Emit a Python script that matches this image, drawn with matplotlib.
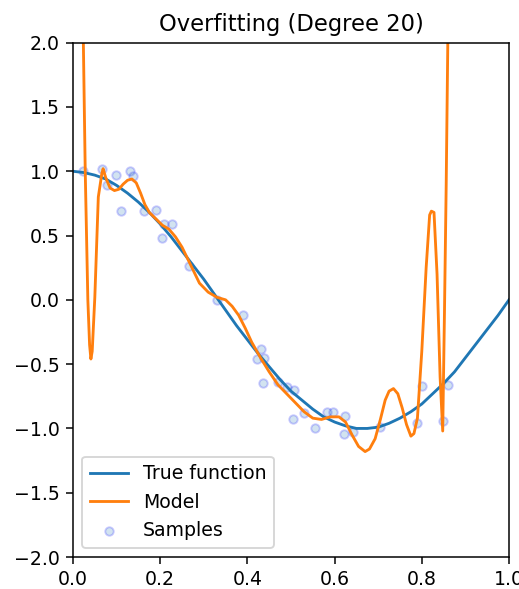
import matplotlib
matplotlib.use("Agg")
import matplotlib.pyplot as plt

# true function
true_x = [0.0, 0.025, 0.05, 0.075, 0.1, 0.125, 0.15, 0.175, 0.2, 0.225, 0.25,
          0.275, 0.3, 0.325, 0.35, 0.375, 0.4, 0.425, 0.45, 0.475, 0.5,
          0.525, 0.55, 0.575, 0.6, 0.625, 0.65, 0.675, 0.7, 0.725, 0.75,
          0.775, 0.8, 0.825, 0.85, 0.875, 0.9, 0.925, 0.95, 0.975, 1.0]
true_y = [1.0, 0.99, 0.97, 0.94, 0.89, 0.83, 0.76, 0.68, 0.59, 0.49, 0.38,
          0.27, 0.16, 0.04, -0.08, -0.20, -0.31, -0.42, -0.52, -0.62, -0.71,
          -0.78, -0.85, -0.91, -0.95, -0.98, -1.0, -1.0, -0.99, -0.96, -0.92,
          -0.87, -0.81, -0.73, -0.65, -0.56, -0.45, -0.34, -0.23, -0.12, 0.0]

# degree-20 model
model_x = [0.018, 0.022, 0.028, 0.034, 0.038, 0.041, 0.044, 0.050, 0.058, 0.066,
           0.069, 0.075, 0.085, 0.095, 0.105, 0.115, 0.125, 0.135, 0.145, 0.155,
           0.165, 0.175, 0.19, 0.205, 0.22, 0.235, 0.25, 0.27, 0.29, 0.31,
           0.33, 0.35, 0.365, 0.38, 0.395, 0.41, 0.43, 0.45, 0.47, 0.49,
           0.51, 0.53, 0.55, 0.57, 0.59, 0.61, 0.625, 0.64, 0.655, 0.67,
           0.68, 0.693, 0.705, 0.716, 0.725, 0.735, 0.745, 0.755, 0.765, 0.775,
           0.782, 0.79, 0.80, 0.81, 0.818, 0.822, 0.828, 0.835, 0.842, 0.848,
           0.852, 0.856, 0.861]
model_y = [3.5, 2.4, 1.0, 0.0, -0.35, -0.46, -0.40, 0.02, 0.80, 0.98,
           1.02, 0.95, 0.87, 0.85, 0.86, 0.90, 0.93, 0.94, 0.91, 0.83,
           0.74, 0.68, 0.63, 0.58, 0.55, 0.49, 0.41, 0.27, 0.13, 0.06,
           0.02, 0.0, -0.05, -0.12, -0.22, -0.33, -0.45, -0.56, -0.66, -0.73,
           -0.80, -0.87, -0.92, -0.93, -0.91, -0.91, -0.95, -1.05, -1.14, -1.18,
           -1.16, -1.08, -0.93, -0.78, -0.71, -0.69, -0.73, -0.84, -0.97, -1.06,
           -1.04, -0.92, -0.40, 0.25, 0.66, 0.69, 0.68, 0.20, -0.60, -1.02,
           -0.10, 0.90, 2.4]

# noisy samples
sample_x = [0.023, 0.066, 0.078, 0.098, 0.110, 0.131, 0.138, 0.163, 0.190, 0.204,
            0.209, 0.227, 0.266, 0.330, 0.390, 0.431, 0.422, 0.438, 0.436, 0.470,
            0.490, 0.507, 0.505, 0.530, 0.555, 0.583, 0.597, 0.624, 0.622, 0.642,
            0.704, 0.789, 0.800, 0.849, 0.860]
sample_y = [1.00, 1.02, 0.89, 0.97, 0.69, 1.00, 0.96, 0.69, 0.70, 0.48,
            0.59, 0.59, 0.26, 0.00, -0.12, -0.38, -0.46, -0.45, -0.65, -0.64,
            -0.68, -0.70, -0.93, -0.88, -1.00, -0.87, -0.87, -0.90, -1.04, -1.03,
            -0.99, -0.96, -0.67, -0.94, -0.66]

DPI = 136
fig = plt.figure(figsize=(519 / DPI, 589 / DPI), dpi=DPI)
ax = fig.add_axes([0.1407, 0.0543, 0.84, 0.8732])

ax.plot(true_x, true_y, label="True function")
ax.plot(model_x, model_y, label="Model")
ax.scatter(sample_x, sample_y, edgecolor='b', s=20, alpha=0.2, label="Samples")

ax.set_xlim(0, 1)
ax.set_ylim(-2, 2)
ax.set_title("Overfitting (Degree 20)")
ax.legend(loc="lower left")

fig.savefig("out.png", dpi=DPI)
